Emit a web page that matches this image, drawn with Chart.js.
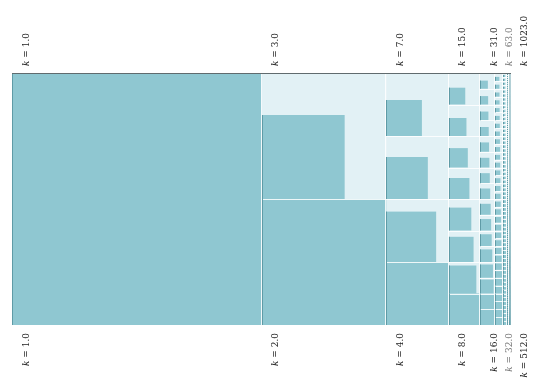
<!DOCTYPE html>
<html>
<head>
<meta charset="utf-8">
<script src="https://cdn.jsdelivr.net/npm/chart.js@4.4.0/dist/chart.umd.min.js"></script>
<style>
  html, body { margin: 0; padding: 0; background: #ffffff; }
  #wrap { width: 540px; height: 391px; position: relative; }
</style>
</head>
<body>
<div id="wrap"><canvas id="chart"></canvas></div>
<script>
// smallest and largest k in every column
const kLow = [1, 2, 4, 8, 16, 32, 64, 128, 256, 512];
const kHigh = [1, 3, 7, 15, 31, 63, 127, 255, 511, 1023];
// columns that carry a label, and the labels themselves
const labelColumns = [0, 1, 2, 3, 4, 5, 9];
const topLabels = ['1.0', '3.0', '7.0', '15.0', '31.0', '63.0', '1023.0'];
const bottomLabels = ['1.0', '2.0', '4.0', '8.0', '16.0', '32.0', '512.0'];
const fadedLabels = [5];

const DARK = '#8fc7d1';
const LIGHT = '#e2f1f5';
const EDGE = '#5f9ba6';

// column start on the x axis (each column is 1/kLow wide)
const colStart = [];
let acc = 0;
kLow.forEach(k => { colStart.push(acc); acc += 1 / k; });

const cellsPlugin = {
    id: 'cells',
    beforeDatasetsDraw(chart) {
        const ctx = chart.ctx;
        const xs = chart.scales.x;
        const ys = chart.scales.y;
        const px = v => xs.getPixelForValue(v);
        const py = v => ys.getPixelForValue(v);
        ctx.save();

        // light cells
        kLow.forEach((lo, j) => {
            const x0 = px(colStart[j]), x1 = px(colStart[j] + 1 / lo);
            ctx.fillStyle = LIGHT;
            ctx.fillRect(x0, py(1), x1 - x0, py(0) - py(1));
        });

        // dark squares, side = kLow / k of the cell
        kLow.forEach((lo, j) => {
            const w = 1 / lo, h = 1 / lo;
            for (let k = lo; k <= kHigh[j]; k++) {
                const f = lo / k;
                const yb = (k - lo) * h;
                const x0 = px(colStart[j]), x1 = px(colStart[j] + w * f);
                const y0 = py(yb), y1 = py(yb + h * f);
                ctx.fillStyle = DARK;
                ctx.fillRect(x0, y1, x1 - x0, y0 - y1);
            }
        });

        // white cell borders
        ctx.strokeStyle = 'rgba(255,255,255,0.85)';
        ctx.lineWidth = 1;
        kLow.forEach((lo, j) => {
            const x0 = px(colStart[j]), x1 = px(colStart[j] + 1 / lo);
            for (let i = 1; i < lo; i++) {
                const y = Math.round(py(i / lo)) + 0.5;
                ctx.beginPath();
                ctx.moveTo(x0, y);
                ctx.lineTo(x1, y);
                ctx.stroke();
            }
            const xl = Math.round(x0) - 0.5;
            ctx.beginPath();
            ctx.moveTo(xl, py(1));
            ctx.lineTo(xl, py(0));
            ctx.stroke();
        });
        ctx.beginPath();
        ctx.moveTo(px(0), Math.round(py(0)) + 0.5);
        ctx.lineTo(px(2), Math.round(py(0)) + 0.5);
        ctx.stroke();

        // dark left edge of every square
        ctx.strokeStyle = EDGE;
        kLow.forEach((lo, j) => {
            const h = 1 / lo;
            const xl = Math.round(px(colStart[j])) + 0.5;
            for (let k = lo; k <= kHigh[j]; k++) {
                const f = lo / k;
                const yb = (k - lo) * h;
                ctx.beginPath();
                ctx.moveTo(xl, py(yb));
                ctx.lineTo(xl, py(yb + h * f));
                ctx.stroke();
            }
        });

        // top spine
        ctx.strokeStyle = '#606b6e';
        const yt = Math.round(py(1)) + 0.5;
        ctx.beginPath();
        ctx.moveTo(px(0), yt);
        ctx.lineTo(px(2), yt);
        ctx.stroke();

        // rotated labels
        const drawLabel = (text, x, y, anchorEnd, color) => {
            ctx.save();
            ctx.translate(x, y);
            ctx.rotate(-Math.PI / 2);
            ctx.fillStyle = color;
            ctx.textBaseline = 'middle';
            ctx.textAlign = 'left';
            ctx.font = 'italic 9px "DejaVu Serif"';
            const kw = ctx.measureText('k').width;
            ctx.font = '9px "DejaVu Serif"';
            const rest = ' = ' + text;
            const rw = ctx.measureText(rest).width;
            const start = anchorEnd ? -(kw + rw) : 0;
            ctx.font = 'italic 9px "DejaVu Serif"';
            ctx.fillText('k', start, 0);
            ctx.font = '9px "DejaVu Serif"';
            ctx.fillText(rest, start + kw, 0);
            ctx.restore();
        };
        labelColumns.forEach((j, n) => {
            const x = px(colStart[j]) + 14.5;
            const color = fadedLabels.includes(j) ? '#7a7a7a' : '#222222';
            drawLabel(topLabels[n], x, py(1) - 7, false, color);
            drawLabel(bottomLabels[n], x, py(0) + 8, true, color);
        });

        ctx.restore();
    }
};

new Chart(document.getElementById('chart'), {
    type: 'scatter',
    data: { datasets: [{ data: [] }] },
    options: {
        responsive: true,
        maintainAspectRatio: false,
        animation: false,
        layout: { padding: { left: 12, right: 29, top: 73, bottom: 66 } },
        plugins: { legend: { display: false }, tooltip: { enabled: false } },
        scales: {
            x: { type: 'linear', min: 0, max: 2, display: false },
            y: { type: 'linear', min: 0, max: 1, display: false }
        }
    },
    plugins: [cellsPlugin]
});
</script>
</body>
</html>
